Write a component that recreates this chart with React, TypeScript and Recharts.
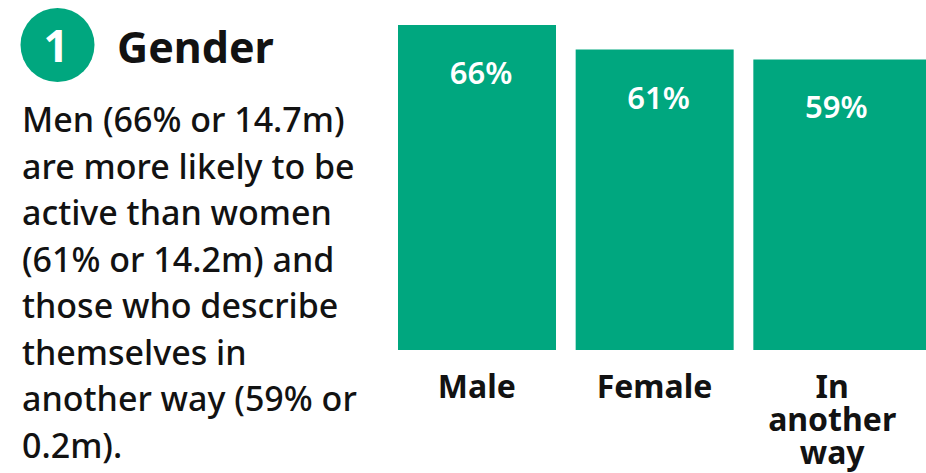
import React from 'react';
import { BarChart, Bar, XAxis, YAxis, LabelList, Rectangle } from 'recharts';

const categories = ['Male', 'Female', 'In another way'];
const categoryLines = [['Male'], ['Female'], ['In', 'another', 'way']];
const values = [66, 61, 59];
const valueLabels = ['66%', '61%', '59%'];
const badgeText = '1';
const titleText = 'Gender';
const bodyLines = [
  'Men (66% or 14.7m)',
  'are more likely to be',
  'active than women',
  '(61% or 14.2m) and',
  'those who describe',
  'themselves in',
  'another way (59% or',
  '0.2m).',
];

const GREEN = '#00a77f';
const INK = '#121212';
const FONT = "'Noto Sans', 'DejaVu Sans', sans-serif";
const W = 926;
const H = 473;

const data = categories.map((c, i) => ({ name: c, value: values[i] }));

const CategoryTick = (props: any) => {
  const { x, y, payload } = props;
  const lines = categoryLines[payload.index] || [payload.value];
  return (
    <text x={x} y={y} textAnchor="middle" fill={INK} fontFamily={FONT} fontWeight={700} fontSize={32}>
      {lines.map((l: string, i: number) => (
        <tspan key={i} x={x} y={y + 48 + i * 33}>{l}</tspan>
      ))}
    </text>
  );
};

const ValueLabel = (props: any) => {
  const { x, y, width, index } = props;
  return (
    <text x={x + width / 2 + 4} y={y + 59} textAnchor="middle" fill="#ffffff" fontFamily={FONT} fontWeight={600} fontSize={31}>
      {valueLabels[index]}
    </text>
  );
};

const BarShape = (props: any) => {
  const { index, x, width } = props;
  const w = index === values.length - 1 ? Math.max(width, W - x) : width;
  return <Rectangle {...props} width={w} fill={GREEN} />;
};

export default function App() {
  return (
    <div style={{ position: 'absolute', left: 0, top: 0, width: W, height: H, overflow: 'hidden', background: '#fff' }}>
      <svg width={W} height={H} style={{ position: 'absolute', left: 0, top: 0 }}>
        <circle cx={57.5} cy={45} r={37} fill={GREEN} />
        <text x={56} y={62} textAnchor="middle" fill="#fff" fontFamily={FONT} fontWeight={700} fontSize={44}>{badgeText}</text>
        <text x={117} y={63} fill={INK} fontFamily={FONT} fontWeight={700} fontSize={43}>{titleText}</text>
        {bodyLines.map((l, i) => (
          <text key={i} x={22} y={132 + i * 46.5} fill={INK} fontFamily={FONT} fontWeight={500} fontSize={34}>{l}</text>
        ))}
      </svg>
      <div style={{ position: 'absolute', left: 0, top: 0 }}>
        <BarChart width={W} height={H} data={data} margin={{ top: 25, right: 5, bottom: 3, left: 388 }} barSize={158}>
          <YAxis hide domain={[0, 66]} />
          <XAxis dataKey="name" axisLine={false} tickLine={false} tickSize={0} tickMargin={0} height={120} interval={0} tick={<CategoryTick />} />
          <Bar dataKey="value" isAnimationActive={false} shape={<BarShape />}>
            <LabelList dataKey="value" content={<ValueLabel />} />
          </Bar>
        </BarChart>
      </div>
    </div>
  );
}
